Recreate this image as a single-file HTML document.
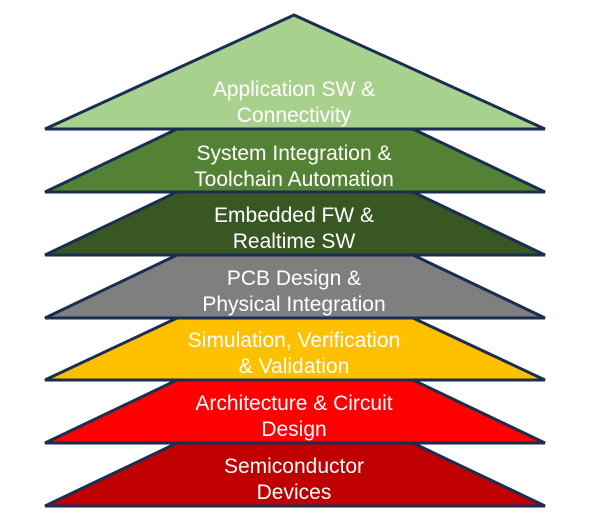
<!DOCTYPE html>
<html><head><style>body{margin:0;background:#fff}svg{display:block}</style></head><body>
<svg width="600" height="528" viewBox="0 0 600 528" font-family="Liberation Sans, sans-serif" font-size="21" fill="#fff">
<g stroke="#1a2e52" stroke-width="3" stroke-linejoin="miter">
<polygon points="294,15 545,129 45,129" fill="#a9d18e"/>
<polygon points="177,129 413,129 545,192 45,192" fill="#548235"/>
<polygon points="177,192 413,192 545,255 45,255" fill="#385723"/>
<polygon points="177,255 413,255 545,318 45,318" fill="#7f7f7f"/>
<polygon points="177,318 413,318 545,380 45,380" fill="#ffc000"/>
<polygon points="177,380 413,380 545,443 45,443" fill="#ff0000"/>
<polygon points="177,443 413,443 545,506 45,506" fill="#c00000"/>
</g>
<g text-anchor="middle">
<text x="294" y="96">Application SW &amp;</text><text x="294" y="122">Connectivity</text>
<text x="294" y="160">System Integration &amp;</text><text x="294" y="186">Toolchain Automation</text>
<text x="294" y="222">Embedded FW &amp;</text><text x="294" y="248">Realtime SW</text>
<text x="294" y="285">PCB Design &amp;</text><text x="294" y="311">Physical Integration</text>
<text x="294" y="347">Simulation, Verification</text><text x="294" y="373">&amp; Validation</text>
<text x="294" y="410">Architecture &amp; Circuit</text><text x="294" y="436">Design</text>
<text x="294" y="473">Semiconductor</text><text x="294" y="499">Devices</text>
</g>
</svg>
</body></html>
